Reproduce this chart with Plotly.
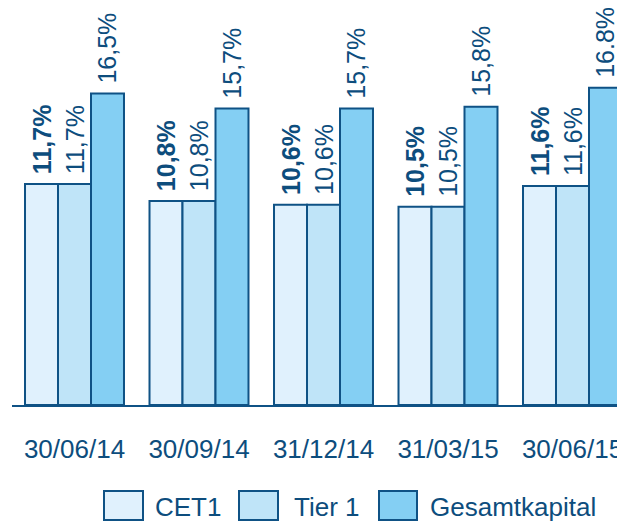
import plotly.graph_objects as go

# Capital ratios per reporting date (in %)
dates = ["30/06/14", "30/09/14", "31/12/14", "31/03/15", "30/06/15"]
cet1 = [11.7, 10.8, 10.6, 10.5, 11.6]
tier1 = [11.7, 10.8, 10.6, 10.5, 11.6]
gesamt = [16.5, 15.7, 15.7, 15.8, 16.8]
gesamt_sep = [",", ",", ",", ",", "."]

series_names = ["CET1", "Tier 1", "Gesamtkapital"]
fills = ["#e0f1fd", "#bfe4f8", "#84cff3"]
edge = "#0f5285"
ink = "#0d4d7d"
font_family = "Liberation Sans, Arial, sans-serif"


def fmt(v, sep=","):
    # a leading no-break space keeps the rotated label clear of the bar top
    return "\u00a0" + f"{v:.1f}".replace(".", sep) + "%"


fig = go.Figure()
series = [
    (cet1, [fmt(v) for v in cet1], "bold"),
    (tier1, [fmt(v) for v in tier1], "normal"),
    (gesamt, [fmt(v, s) for v, s in zip(gesamt, gesamt_sep)], "normal"),
]
for (vals, labels, weight), name, fill in zip(series, series_names, fills):
    fig.add_trace(go.Bar(
        x=list(range(len(dates))), y=vals, name=name,
        marker=dict(color=fill, line=dict(color=edge, width=2)),
        text=labels, textposition="outside", textangle=-90,
        textfont=dict(family=font_family, size=25, color=ink, weight=weight),
        constraintext="none", cliponaxis=False, showlegend=False,
    ))

# Plot area geometry in pixels
W, H = 617, 522
L, R, T, B = 12, 0, 0, 117
pw, ph = W - L - R, H - T - B


def px(xp):
    return (xp - L) / pw


def py(yp):
    return (H - B - yp) / ph


# Legend drawn as boxes with labels beneath the axis
legend_items = [(104, 143, 153), (239, 278, 292), (379, 417, 428)]
for (x0, x1, tx), name, fill in zip(legend_items, series_names, fills):
    fig.add_shape(type="rect", xref="paper", yref="paper",
                  x0=px(x0), x1=px(x1), y0=py(520), y1=py(491),
                  fillcolor=fill, line=dict(color=edge, width=2))
    fig.add_annotation(xref="paper", yref="paper", x=px(tx), y=py(507),
                       text=name, showarrow=False, xanchor="left", yanchor="middle",
                       font=dict(family=font_family, size=26, color=ink))

group_px = 124.5
fig.update_layout(
    width=W, height=H,
    margin=dict(l=L, r=R, t=T, b=B, pad=0, autoexpand=False),
    paper_bgcolor="white", plot_bgcolor="white",
    barmode="group", bargap=0.205, bargroupgap=0,
    font=dict(family=font_family, color=ink),
    xaxis=dict(
        range=[-(74.5 - L) / group_px, -(74.5 - L) / group_px + pw / group_px],
        tickmode="array", tickvals=list(range(len(dates))), ticktext=dates,
        tickfont=dict(family=font_family, size=26, color=ink),
        ticklabeloverflow="allow", automargin=False,
        showline=True, linecolor=edge, linewidth=2,
        showgrid=False, zeroline=False, ticks="", ticklabelstandoff=20,
    ),
    yaxis=dict(range=[0, ph / 18.88], visible=False, showgrid=False, zeroline=False),
)

fig.write_html("out.html")
